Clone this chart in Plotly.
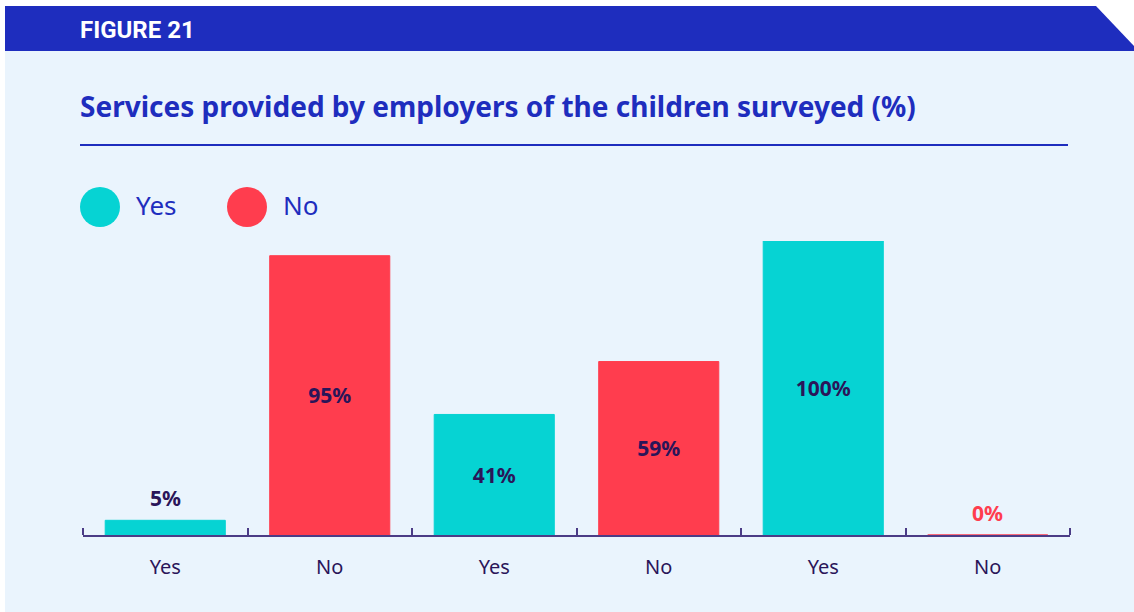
import plotly.graph_objects as go

# ---- data ----
categories = ["Yes", "No", "Yes", "No", "Yes", "No"]
yes_pos = [0, 2, 4]
no_pos = [1, 3, 5]
yes_values = [5, 41, 100]
no_values = [95, 59, 0]

TITLE = "Services provided by employers of the children surveyed (%)"
FIG_LABEL = "FIGURE 21"

# ---- styling ----
TEAL = "#06D3D3"
RED = "#FF3D4E"
BLUE = "#1E2DBE"
NAVY = "#2A1559"
CARD = "#EAF4FD"
AXIS = "#4B3C86"
FONT = "Noto Sans"
LABEL_SIZE = 21

W, H = 1134, 612
L, R, T, B = 83, 1070, 241, 535


def px(x):
    return (x - L) / (R - L)


def py(y):
    return (B - y) / (B - T)


def is_short(v):
    # bars too short to hold their label get it written above instead
    return v < 10


def label_color(v, bar_color):
    return bar_color if v == 0 else NAVY


fig = go.Figure()
annotations = []

for name, xs, vals, color in [("Yes", yes_pos, yes_values, TEAL),
                              ("No", no_pos, no_values, RED)]:
    fig.add_trace(go.Bar(
        name=name, x=xs, y=vals, width=0.73,
        marker=dict(color=color, line=dict(color=color, width=1)),
        text=["" if is_short(v) else f"{v}%" for v in vals],
        textposition="inside",
        insidetextanchor="middle",
        textfont=dict(family=FONT, size=LABEL_SIZE, weight=700, color=NAVY),
        cliponaxis=False, showlegend=False,
    ))
    for x, v in zip(xs, vals):
        if is_short(v):
            annotations.append(dict(
                x=x, y=v, xref="x", yref="y", text=f"{v}%",
                showarrow=False, xanchor="center", yanchor="bottom", yshift=6,
                font=dict(family=FONT, size=LABEL_SIZE, weight=700,
                          color=label_color(v, color)),
            ))

shapes = [
    # card background
    dict(type="rect", xref="paper", yref="paper", layer="below",
         x0=px(5), x1=px(1134), y0=py(51), y1=py(612),
         fillcolor=CARD, line=dict(width=0)),
    # header band with cut corner
    dict(type="path", xref="paper", yref="paper", layer="below",
         path=(f"M {px(5)} {py(6)} L {px(1096)} {py(6)} L {px(1134)} {py(46)} "
               f"L {px(1134)} {py(51)} L {px(5)} {py(51)} Z"),
         fillcolor=BLUE, line=dict(width=0)),
    # rule under the title
    dict(type="line", xref="paper", yref="paper",
         x0=px(80), x1=px(1068), y0=py(145), y1=py(145),
         line=dict(color=BLUE, width=2)),
    # legend dots
    dict(type="circle", xref="paper", yref="paper",
         x0=px(80), x1=px(120), y0=py(227), y1=py(187),
         fillcolor=TEAL, line=dict(width=0)),
    dict(type="circle", xref="paper", yref="paper",
         x0=px(227), x1=px(267), y0=py(227), y1=py(187),
         fillcolor=RED, line=dict(width=0)),
]

annotations += [
    dict(text=FIG_LABEL, xref="paper", yref="paper", x=px(78), y=py(30),
         xanchor="left", yanchor="middle", showarrow=False,
         font=dict(family="Roboto", size=24, weight=700, color="white")),
    dict(text=TITLE, xref="paper", yref="paper", x=px(78), y=py(106),
         xanchor="left", yanchor="middle", showarrow=False,
         font=dict(family=FONT, size=28, weight=700, color=BLUE)),
    dict(text="Yes", xref="paper", yref="paper", x=px(134), y=py(205),
         xanchor="left", yanchor="middle", showarrow=False,
         font=dict(family=FONT, size=26, color=BLUE)),
    dict(text="No", xref="paper", yref="paper", x=px(281), y=py(205),
         xanchor="left", yanchor="middle", showarrow=False,
         font=dict(family=FONT, size=26, color=BLUE)),
]

fig.update_layout(
    width=W, height=H, autosize=False,
    margin=dict(l=L, r=W - R, t=T, b=H - B, pad=0),
    paper_bgcolor="white", plot_bgcolor="rgba(0,0,0,0)",
    barmode="overlay",
    shapes=shapes, annotations=annotations,
    xaxis=dict(
        range=[-0.5, 5.5], tickmode="array",
        tickvals=list(range(len(categories))), ticktext=categories,
        ticks="", showgrid=False, zeroline=False,
        showline=True, linecolor=AXIS, linewidth=2,
        tickfont=dict(family=FONT, size=20, color=NAVY),
        ticklabelstandoff=13,
        minor=dict(tickvals=[i - 0.5 for i in range(len(categories) + 1)],
                   ticks="inside", ticklen=7, tickwidth=2, tickcolor=AXIS,
                   showgrid=False),
    ),
    yaxis=dict(range=[0, 100], visible=False),
)

fig.write_html("out.html")
